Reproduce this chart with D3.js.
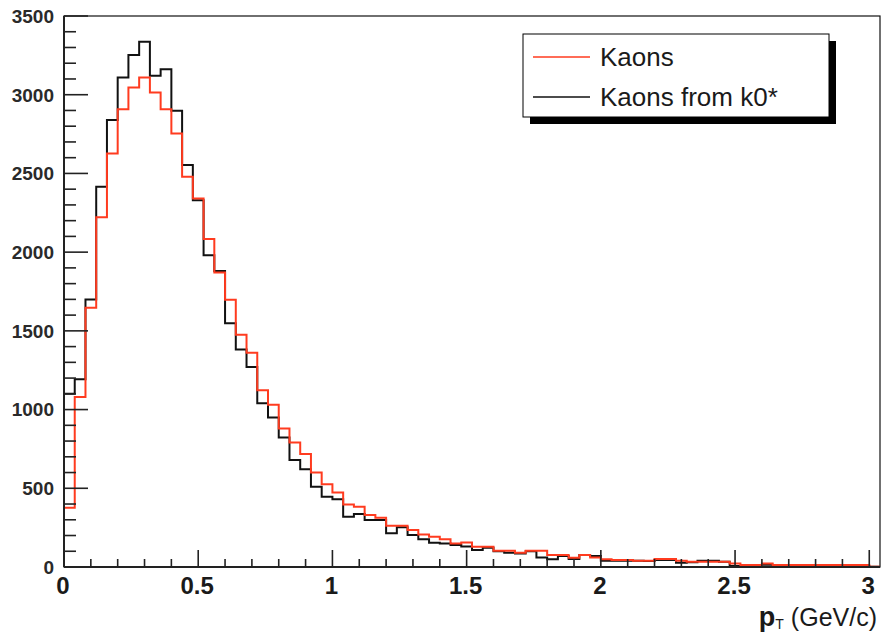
<!DOCTYPE html>
<html>
<head>
<meta charset="utf-8">
<script src="https://cdn.jsdelivr.net/npm/d3@7/dist/d3.min.js"></script>
<style>
  html, body { margin: 0; padding: 0; background: #fff; }
  svg { display: block; }
</style>
</head>
<body>
<script>
// ---------- DATA ----------
const binWidth = 0.04;
const nBins = 76;
const binLow = d3.range(nBins).map(i => +(i * binWidth).toFixed(2));

const kaons = [
  376, 1080, 1647, 2221, 2627, 2908, 3046, 3109, 3014, 2908,
  2754, 2479, 2340, 2084, 1870, 1697, 1475, 1361, 1122, 1030,
  879, 791, 717, 600, 526, 474, 397, 383, 330, 313,
  262, 262, 235, 207, 192, 176, 150, 155, 129, 129,
  103, 103, 91, 103, 103, 76, 76, 59, 76, 61,
  49, 44, 44, 40, 40, 51, 51, 40, 34, 34,
  34, 34, 23, 13, 13, 23, 13, 13, 13, 13,
  13, 13, 13, 13, 13, 2
];

const kaonsFromK0 = [
  1100, 1192, 1699, 2416, 2839, 3109, 3253, 3337, 3120, 3162,
  2898, 2553, 2330, 1980, 1880, 1549, 1382, 1270, 1040, 950,
  822, 679, 621, 509, 446, 431, 319, 336, 298, 298,
  214, 252, 203, 176, 154, 150, 140, 130, 108, 122,
  100, 90, 85, 100, 61, 49, 70, 51, 76, 70,
  40, 40, 40, 40, 38, 44, 44, 27, 30, 40,
  40, 34, 6, 6, 6, 15, 5, 5, 5, 6,
  6, 6, 6, 6, 6, 2
];

const xMajorTicks = [0, 0.5, 1, 1.5, 2, 2.5, 3];
const xTickLabels = ["0", "0.5", "1", "1.5", "2", "2.5", "3"];
const yMajorTicks = [0, 500, 1000, 1500, 2000, 2500, 3000, 3500];
const yTickLabels = ["0", "500", "1000", "1500", "2000", "2500", "3000", "3500"];
const legendLabels = ["Kaons", "Kaons from k0*"];

// ---------- LAYOUT ----------
const W = 885, H = 634;
const L = 64, R = 880, T = 16, B = 567;
const red = "#ff3b1f";
const font = "Liberation Sans, Arial, Helvetica, sans-serif";

const svg = d3.select("body").append("svg").attr("width", W).attr("height", H);

const x = d3.scaleLinear().domain([0, nBins * binWidth]).range([L, R]);
const y = d3.scaleLinear().domain([0, 3500]).range([B, T]);

// frame
svg.append("rect").attr("x", L).attr("y", T).attr("width", R - L).attr("height", B - T)
  .attr("fill", "none").attr("stroke", "#111").attr("stroke-width", 1.2);

// histogram step paths
function stepPath(vals) {
  let p = "";
  vals.forEach((v, i) => {
    const x0 = x(binLow[i]), x1 = x(binLow[i] + binWidth), yy = y(v);
    p += (i === 0 ? "M" : "L") + x0 + "," + yy + "L" + x1 + "," + yy;
  });
  return p;
}

svg.append("path").attr("d", stepPath(kaonsFromK0))
  .attr("fill", "none").attr("stroke", "#111").attr("stroke-width", 2);
svg.append("path").attr("d", stepPath(kaons))
  .attr("fill", "none").attr("stroke", red).attr("stroke-width", 2);

// x axis
const axisColor = "#222";
svg.append("line").attr("x1", L).attr("x2", R).attr("y1", B).attr("y2", B)
  .attr("stroke", axisColor).attr("stroke-width", 2);
const xMinor = d3.range(0, 31).map(i => i / 10).filter(v => !xMajorTicks.some(m => Math.abs(m - v) < 1e-6));
svg.append("g").selectAll("line").data(xMinor).join("line")
  .attr("x1", d => x(d)).attr("x2", d => x(d)).attr("y1", B).attr("y2", B - 8)
  .attr("stroke", axisColor).attr("stroke-width", 1.6);
svg.append("g").selectAll("line").data(xMajorTicks).join("line")
  .attr("x1", d => x(d)).attr("x2", d => x(d)).attr("y1", B).attr("y2", B - 17)
  .attr("stroke", axisColor).attr("stroke-width", 1.6);
svg.append("g").selectAll("text").data(xMajorTicks).join("text")
  .attr("x", d => x(d) - 1).attr("y", 594)
  .attr("text-anchor", "middle")
  .attr("font-family", font)
  .attr("font-weight", "bold").attr("font-size", 24).attr("fill", "#1a1a1a")
  .text((d, i) => xTickLabels[i]);

// y axis
svg.append("line").attr("x1", L).attr("x2", L).attr("y1", B).attr("y2", T)
  .attr("stroke", axisColor).attr("stroke-width", 2);
const yMinor = d3.range(0, 3501, 100).filter(v => v % 500 !== 0);
svg.append("g").selectAll("line").data(yMinor).join("line")
  .attr("x1", L).attr("x2", L + 12).attr("y1", d => y(d)).attr("y2", d => y(d))
  .attr("stroke", axisColor).attr("stroke-width", 1.6);
svg.append("g").selectAll("line").data(yMajorTicks).join("line")
  .attr("x1", L).attr("x2", L + 24).attr("y1", d => y(d)).attr("y2", d => y(d))
  .attr("stroke", axisColor).attr("stroke-width", 1.6);
svg.append("g").selectAll("text").data(yMajorTicks).join("text")
  .attr("x", 54).attr("y", d => y(d)).attr("dy", "0.36em")
  .attr("text-anchor", "end")
  .attr("font-family", font)
  .attr("font-weight", "bold").attr("font-size", 19).attr("fill", "#2a2a2a")
  .text((d, i) => yTickLabels[i]);

// x axis title
const title = svg.append("text").attr("x", 877).attr("y", 626).attr("text-anchor", "end")
  .attr("font-family", font).attr("fill", "#1a1a1a");
title.append("tspan").attr("font-size", 27).attr("font-weight", "bold").text("p");
title.append("tspan").attr("font-size", 14).attr("dy", 3).text("T");
title.append("tspan").attr("font-size", 25).attr("dy", -3).text(" (GeV/c)");

// legend
const lg = { x: 523, y: 34, w: 306, h: 83, sh: 7 };
svg.append("rect").attr("x", lg.x + lg.sh).attr("y", lg.y + lg.sh).attr("width", lg.w).attr("height", lg.h)
  .attr("fill", "#000");
svg.append("rect").attr("x", lg.x).attr("y", lg.y).attr("width", lg.w).attr("height", lg.h)
  .attr("fill", "#fff").attr("stroke", "#000").attr("stroke-width", 1);
const legColors = [red, "#111"];
const legY = [57, 97];
legendLabels.forEach((lab, i) => {
  svg.append("line").attr("x1", 533).attr("x2", 590).attr("y1", legY[i]).attr("y2", legY[i])
    .attr("stroke", legColors[i]).attr("stroke-width", 1.6);
  svg.append("text").attr("x", 600).attr("y", legY[i]).attr("dy", "0.36em")
    .attr("font-family", font).attr("font-size", 26)
    .attr("fill", "#1a1a1a").text(lab);
});
</script>
</body>
</html>
